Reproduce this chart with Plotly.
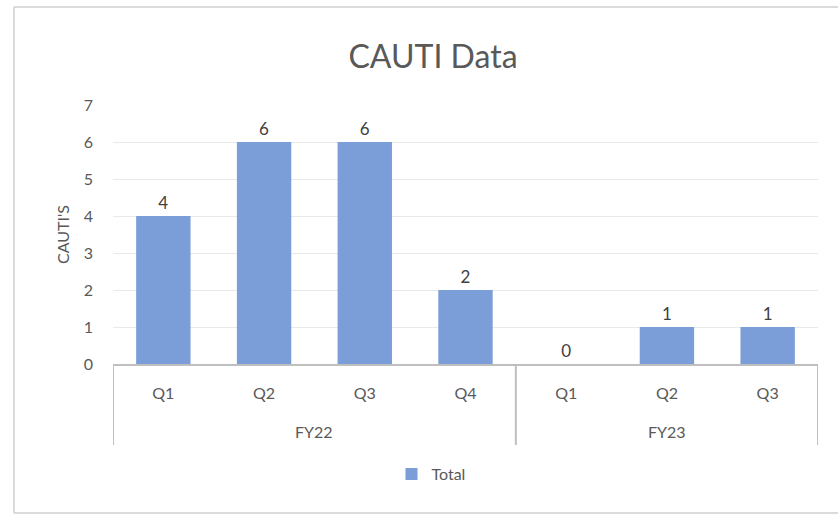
import plotly.graph_objects as go

fiscal_years = ["FY22", "FY22", "FY22", "FY22", "FY23", "FY23", "FY23"]
quarters = ["Q1", "Q2", "Q3", "Q4", "Q1", "Q2", "Q3"]
totals = [4, 6, 6, 2, 0, 1, 1]

FONT = "Lato, Open Sans, sans-serif"
BAR = "#7b9dd8"
AXIS = "#bfbfbf"

positions = list(range(len(quarters)))

# group boundaries for the fiscal-year level of the category axis
groups = []
for i, fy in enumerate(fiscal_years):
    if not groups or groups[-1][0] != fy:
        groups.append([fy, i, i])
    else:
        groups[-1][2] = i

fig = go.Figure()
fig.add_trace(go.Bar(
    x=positions,
    y=totals,
    name="Total",
    marker=dict(color=BAR, line=dict(width=0)),
    text=[str(v) for v in totals],
    textposition="outside",
    textfont=dict(family=FONT, size=17, color="#404040"),
    cliponaxis=False,
    showlegend=True,
))

# plot area in pixels
L, R, T, B = 113, 818, 105, 364
PH = B - T

shapes = []
annotations = []
div_bottom = (B - 445) / PH
for fy, a, b in groups:
    annotations.append(dict(
        x=(a + b) / 2, xref="x", y=(B - 431) / PH, yref="paper",
        text=fy, showarrow=False, yanchor="middle",
        font=dict(family=FONT, size=16, color="#595959")))
boundaries = sorted({g[1] - 0.5 for g in groups} | {groups[-1][2] + 0.5})
for xb in boundaries:
    shapes.append(dict(type="line", xref="x", yref="paper", x0=xb, x1=xb,
                       y0=0, y1=div_bottom, line=dict(color=AXIS, width=2)))

# outer chart frame (left, top and bottom edges visible)
fx0 = (14 - L) / (R - L)
fx1 = (1000 - L) / (R - L)
fy0 = (B - 513) / PH
fy1 = (B - 7) / PH
frame = dict(xref="paper", yref="paper", line=dict(color="#cfcfcf", width=1.5))
shapes.append(dict(type="line", x0=fx0, x1=fx0, y0=fy0, y1=fy1, **frame))
shapes.append(dict(type="line", x0=fx0, x1=fx1, y0=fy1, y1=fy1, **frame))
shapes.append(dict(type="line", x0=fx0, x1=fx1, y0=fy0, y1=fy0, **frame))

fig.update_layout(
    width=838, height=515,
    margin=dict(l=L, r=838 - R, t=T, b=515 - B),
    paper_bgcolor="white", plot_bgcolor="white",
    font=dict(family=FONT, color="#595959"),
    title=dict(text="CAUTI Data", x=433 / 838, xref="container",
               y=1 - 57 / 515, yref="container",
               yanchor="middle", xanchor="center",
               font=dict(family=FONT, size=32, color="#595959")),
    bargap=0.46,
    showlegend=True,
    legend=dict(orientation="h", x=(431 - L) / (R - L), xanchor="center",
                y=(B - 474) / PH, yanchor="middle",
                font=dict(family=FONT, size=16, color="#595959"),
                itemwidth=30),
    xaxis=dict(
        range=[-0.5, len(quarters) - 0.5],
        tickmode="array", tickvals=positions, ticktext=quarters,
        showline=True, linecolor=AXIS, linewidth=2,
        tickfont=dict(family=FONT, size=16, color="#595959"),
        ticks="", showgrid=False, zeroline=False,
        ticklabelstandoff=14,
    ),
    yaxis=dict(
        range=[0, 7], dtick=1, tick0=0,
        showgrid=True, gridcolor="#e9e9e9", gridwidth=1,
        zeroline=False, showline=False,
        tickfont=dict(family=FONT, size=16, color="#595959"),
        ticks="", ticklabelstandoff=19,
        title=dict(text="CAUTI'S", font=dict(family=FONT, size=16, color="#595959"),
                   standoff=10),
    ),
    shapes=shapes,
    annotations=annotations,
)

fig.write_html("out.html", config={"displayModeBar": False},
               post_script="document.body.style.margin='0';"
                           "document.body.style.overflow='hidden';"
                           "document.documentElement.style.overflow='hidden';")
